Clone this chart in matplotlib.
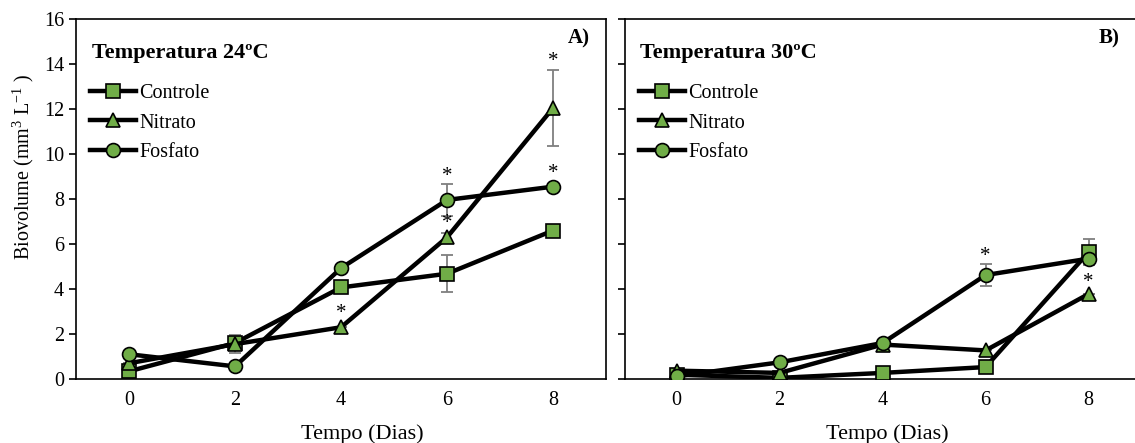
import matplotlib
matplotlib.use("Agg")
import matplotlib.pyplot as plt
import numpy as np

plt.rcParams['font.family'] = ['Liberation Serif', 'DejaVu Serif']
plt.rcParams['mathtext.fontset'] = 'custom'
plt.rcParams['mathtext.rm'] = 'Liberation Serif'

dias = [0, 2, 4, 6, 8]
series = ["Controle", "Nitrato", "Fosfato"]
markers = ["s", "^", "o"]

# Temperatura 24ºC
ctrl_24 = [0.34, 1.60, 4.07, 4.68, 6.60]
nitr_24 = [0.70, 1.55, 2.30, 6.30, 12.05]
fosf_24 = [1.10, 0.56, 4.93, 7.96, 8.55]
ctrl_24_err = [0.0, 0.0, 0.0, 0.81, 0.0]
nitr_24_err = [0.0, 0.40, 0.0, 0.20, 1.69]
fosf_24_err = [0.0, 0.0, 0.10, 0.72, 0.0]
sig_24_x = [4, 6, 6, 8, 8]
sig_24_y = [2.93, 6.93, 9.00, 9.15, 14.10]

# Temperatura 30ºC
ctrl_30 = [0.19, 0.05, 0.27, 0.53, 5.64]
nitr_30 = [0.37, 0.27, 1.53, 1.27, 3.78]
fosf_30 = [0.12, 0.74, 1.60, 4.62, 5.35]
ctrl_30_err = [0.0, 0.0, 0.0, 0.0, 0.58]
nitr_30_err = [0.0, 0.0, 0.0, 0.0, 0.0]
fosf_30_err = [0.0, 0.0, 0.0, 0.48, 0.0]
sig_30_x = [6, 8]
sig_30_y = [5.45, 4.27]

green = '#70AD47'

fig = plt.figure(figsize=(11.35, 4.43), dpi=100)
axA = fig.add_axes([0.067, 0.1445, 0.467, 0.8125])
axB = fig.add_axes([0.5507, 0.1445, 0.4493, 0.8125])


def draw_panel(ax, vals, errs, sig_x, sig_y, title, tag):
    for v, e, m, name in zip(vals, errs, markers, series):
        ax.errorbar(dias, v, yerr=e, fmt='none', ecolor='#7f7f7f',
                    elinewidth=1.3, capsize=4, capthick=1.3, zorder=2)
        ax.plot(dias, v, color='black', lw=3.2, marker=m, ms=10,
                mfc=green, mec='black', mew=1.2, label=name, zorder=3)
    for x, y in zip(sig_x, sig_y):
        ax.text(x, y, '*', ha='center', va='center', fontsize=15, zorder=4)
    ax.set_ylim(0, 16)
    ax.set_yticks(np.arange(0, 17, 2))
    ax.set_xticks(dias)
    ax.tick_params(axis='x', length=0, pad=9, labelsize=14.5)
    ax.tick_params(axis='y', direction='out', length=5, width=1.2, labelsize=14.5)
    for s in ax.spines.values():
        s.set_linewidth(1.2)
    ax.set_xlabel('Tempo (Dias)', fontsize=16)
    ax.text(0.03, 0.905, title, transform=ax.transAxes, fontsize=16,
            fontweight='bold', va='center', ha='left')
    ax.text(0.97, 0.945, tag, transform=ax.transAxes, fontsize=15,
            fontweight='bold', va='center', ha='right')
    ax.legend(loc='upper left', bbox_to_anchor=(0.0, 0.858), frameon=False,
              fontsize=14.5, handlelength=2.3, handletextpad=0.15,
              labelspacing=0.5, borderaxespad=0.3)


draw_panel(axA, [ctrl_24, nitr_24, fosf_24], [ctrl_24_err, nitr_24_err, fosf_24_err],
           sig_24_x, sig_24_y, 'Temperatura 24ºC', 'A)')
axA.set_xlim(-1, 9)
axA.set_ylabel('Biovolume (mm$^3$ L$^{\\mathrm{-1}}$ )', fontsize=14.5)
axA.yaxis.set_label_coords(-0.075, 0.59)
axA.xaxis.set_label_coords(0.54, -0.125)

draw_panel(axB, [ctrl_30, nitr_30, fosf_30], [ctrl_30_err, nitr_30_err, fosf_30_err],
           sig_30_x, sig_30_y, 'Temperatura 30ºC', 'B)')
axB.set_xlim(-1, 8.9)
axB.set_yticklabels([])
axB.spines['right'].set_visible(False)
axB.xaxis.set_label_coords(0.514, -0.125)

fig.savefig('out.png', dpi=100)
